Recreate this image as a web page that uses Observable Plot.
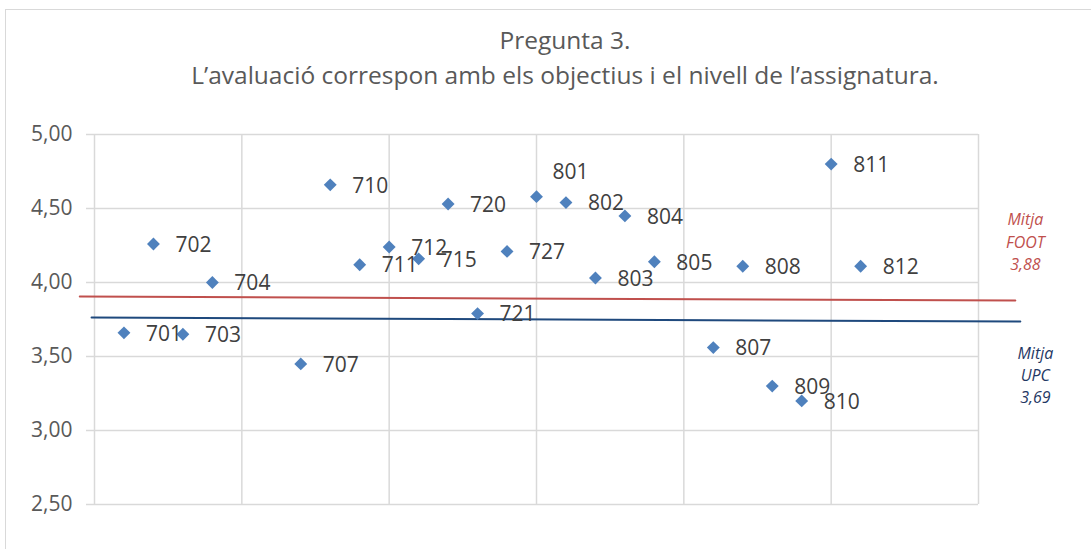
<!DOCTYPE html>
<html>
<head>
<meta charset="utf-8">
<script src="https://cdn.jsdelivr.net/npm/d3@7"></script>
<script src="https://cdn.jsdelivr.net/npm/@observablehq/plot@0.6"></script>
<style>
  html, body { margin: 0; padding: 0; background: #fff; overflow: hidden; }
  #wrap { position: relative; width: 1091px; height: 549px; overflow: hidden; font-family: "Open Sans", sans-serif; }
  #frame { position: absolute; left: 5px; top: 9px; width: 1200px; height: 700px; border-left: 1.5px solid #d9d9d9; border-top: 1.5px solid #d9d9d9; }
  #title { position: absolute; left: 0; top: 0; width: 1130px; height: 110px; text-align: center; color: #595959; font-size: 24.5px; line-height: 32px; }
  #title div { position: absolute; left: 0; width: 100%; }
  #chart { position: absolute; left: 0; top: 110px; }
</style>
</head>
<body>
<div id="wrap">
  <div id="frame"></div>
  <div id="title">
    <div style="top:24px">Pregunta 3.</div>
    <div style="top:59px">L’avaluació correspon amb els objectius i el nivell de l’assignatura.</div>
  </div>
  <div id="chart"></div>
</div>
<script>
const groups = ["701","702","703","704","707","710","711","712","715","720","721","727",
                "801","802","803","804","805","807","808","809","810","811","812"];
const xIndex = [1,2,3,4,7,8,9,10,11,12,13,14,15,16,17,18,19,21,22,23,24,25,26];
const scores = [3.66,4.26,3.65,4.00,3.45,4.66,4.12,4.24,4.16,4.53,3.79,4.21,
                4.58,4.54,4.03,4.45,4.14,3.56,4.11,3.30,3.20,4.80,4.11];
const labelAbove = ["801"];
const yTicks = [2.5, 3.0, 3.5, 4.0, 4.5, 5.0];
const xGrid = [0, 5, 10, 15, 20, 25, 30];

const footX = [-0.5, 31.25], footY = [3.905, 3.878];
const upcX = [-0.1, 31.42], upcY = [3.764, 3.736];
const footNote = "Mitja\nFOOT\n3,88";
const upcNote = "Mitja\nUPC\n3,69";
const footNotePos = {x: 31.59, y: 4.284};
const upcNotePos = {x: 31.93, y: 3.385};

const pts = groups.map((g, i) => ({g, x: xIndex[i], y: scores[i]}));
const ptsRight = pts.filter(d => !labelAbove.includes(d.g));
const ptsAbove = pts.filter(d => labelAbove.includes(d.g));
const foot = footX.map((x, i) => ({x, y: footY[i]}));
const upc = upcX.map((x, i) => ({x, y: upcY[i]}));
const fmt = v => v.toFixed(2).replace(".", ",");

const chart = Plot.plot({
  width: 1091,
  height: 439,
  marginLeft: 94,
  marginRight: 113,
  marginTop: 24,
  marginBottom: 45,
  style: {fontFamily: "'Open Sans', sans-serif", background: "transparent", overflow: "visible"},
  x: {domain: [0, 30], axis: null},
  y: {domain: [2.5, 5]},
  marks: [
    Plot.ruleX(xGrid, {stroke: "#d9d9d9", strokeWidth: 1.5}),
    Plot.ruleY(yTicks, {stroke: "#d9d9d9", strokeWidth: 1.5}),
    Plot.axisY({ticks: yTicks, tickFormat: fmt, tickSize: 8, tickPadding: 14,
                stroke: "#d9d9d9", strokeWidth: 1.5, strokeOpacity: 1,
                fill: "#595959", fontSize: 21, label: null}),
    Plot.line(foot, {x: "x", y: "y", stroke: "#c0504d", strokeWidth: 2}),
    Plot.line(upc, {x: "x", y: "y", stroke: "#1f497d", strokeWidth: 2}),
    Plot.dot(pts, {x: "x", y: "y", symbol: "diamond2", r: 5.8, fill: "#4f81bd", stroke: null}),
    Plot.text(ptsRight, {x: "x", y: "y", text: "g", textAnchor: "start", dx: 22, dy: 1,
                         fill: "#404040", fontSize: 21}),
    Plot.text(ptsAbove, {x: "x", y: "y", text: "g", textAnchor: "start", dx: 16, dy: -24,
                         fill: "#404040", fontSize: 21}),
    Plot.text([footNotePos], {x: "x", y: "y", text: () => footNote, fill: "#c0504d",
                              fontSize: 16, fontStyle: "italic", lineHeight: 1.38}),
    Plot.text([upcNotePos], {x: "x", y: "y", text: () => upcNote, fill: "#1f3864",
                             fontSize: 16, fontStyle: "italic", lineHeight: 1.38})
  ]
});
document.getElementById("chart").appendChild(chart);
</script>
</body>
</html>
